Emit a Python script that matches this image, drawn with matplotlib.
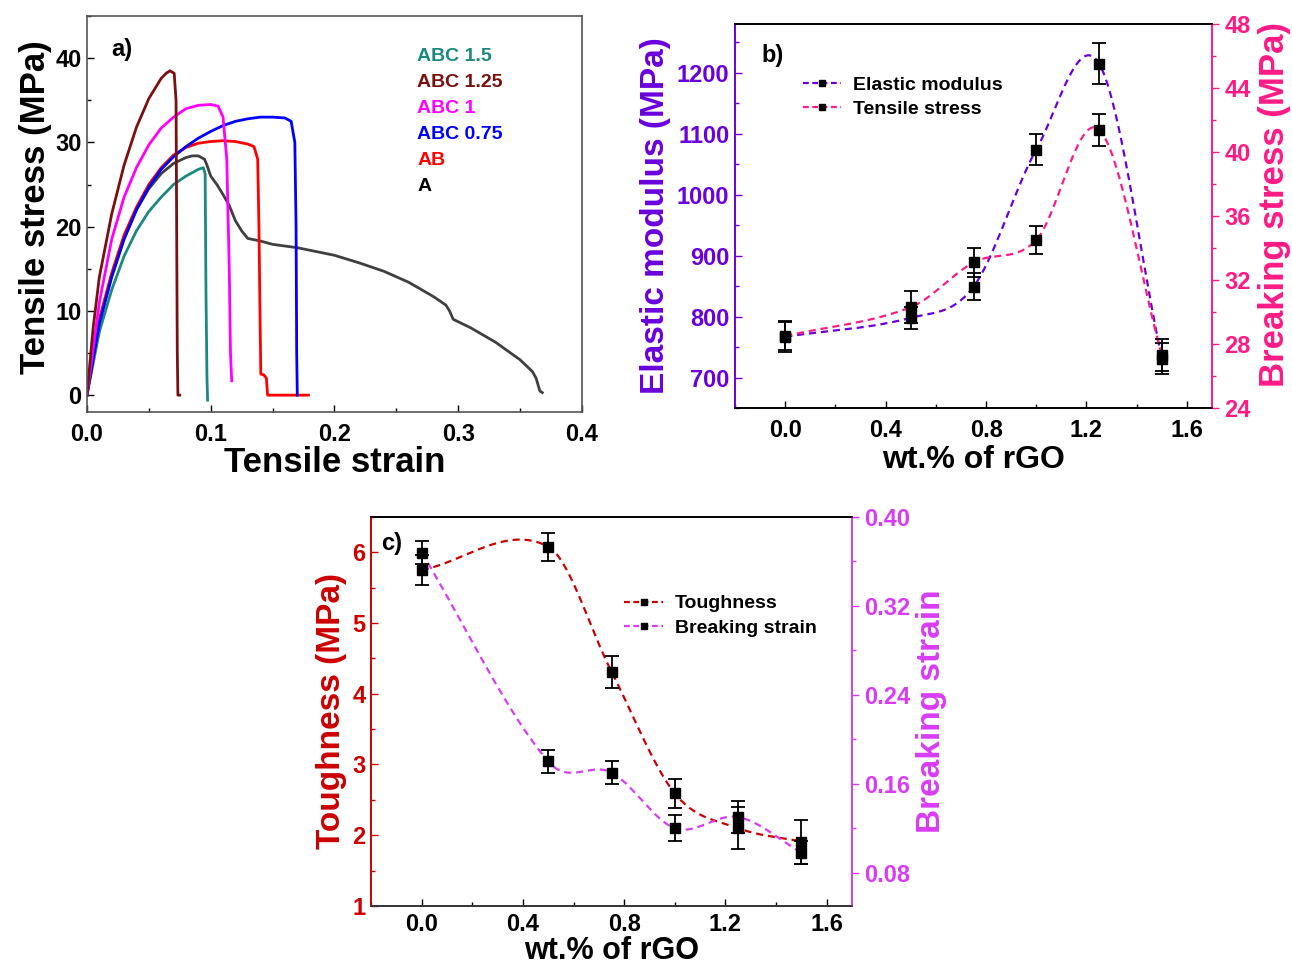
#!/usr/bin/env python3
"""Tensile test summary: stress-strain curves plus property trends vs rGO loading."""

import matplotlib
matplotlib.use("Agg")
import matplotlib.pyplot as plt
import numpy as np
from matplotlib.lines import Line2D
from matplotlib.ticker import MultipleLocator

plt.rcParams["font.family"] = ["Liberation Sans", "DejaVu Sans"]
plt.rcParams["font.weight"] = "bold"

# ---- panel a: stress-strain curves ----
strain_abc150 = [0, 0.01, 0.02, 0.03, 0.04, 0.05, 0.06, 0.07, 0.08, 0.09, 0.094, 0.0955, 0.0962, 0.097, 0.0975]
stress_abc150 = [0, 7.5, 12.5, 16.5, 19.5, 21.8, 23.5, 25.0, 26.0, 26.8, 27.0, 26.3, 12, 2, -0.6]

strain_abc125 = [0, 0.005, 0.01, 0.02, 0.03, 0.04, 0.05, 0.06, 0.064, 0.067, 0.0705, 0.072, 0.0725, 0.073, 0.0735, 0.075]
stress_abc125 = [0, 8, 14, 21.5, 27.3, 31.8, 35.2, 37.6, 38.2, 38.5, 38.2, 35, 20, 5, 0, 0]

strain_abc100 = [0, 0.01, 0.02, 0.03, 0.04, 0.05, 0.06, 0.07, 0.08, 0.09, 0.1, 0.106, 0.11, 0.113, 0.115, 0.116, 0.117]
stress_abc100 = [0, 11, 18.5, 23.5, 27, 29.7, 31.7, 33, 34, 34.4, 34.5, 34.3, 33, 28, 15, 5, 1.7]

strain_abc075 = [0, 0.01, 0.02, 0.03, 0.04, 0.05, 0.06, 0.07, 0.08, 0.09, 0.1, 0.11, 0.12, 0.13, 0.14,
                 0.15, 0.16, 0.165, 0.168, 0.169, 0.1695, 0.17]
stress_abc075 = [0, 8.5, 14, 18.5, 22, 24.7, 26.8, 28.3, 29.5, 30.5, 31.3, 32, 32.5, 32.8, 33,
                 33, 32.9, 32.5, 30, 20, 5, 0]

strain_ab = [0, 0.01, 0.02, 0.03, 0.04, 0.05, 0.06, 0.07, 0.08, 0.09, 0.1, 0.11, 0.12, 0.13, 0.135,
             0.138, 0.139, 0.14, 0.1405, 0.143, 0.145, 0.146, 0.179]
stress_ab = [0, 9, 14.5, 19, 22.3, 25, 27, 28.5, 29.4, 29.9, 30.1, 30.2, 30.1, 29.8, 29.5,
             28, 20, 8, 2.5, 2.4, 2, 0, 0]

strain_a = [0, 0.01, 0.02, 0.03, 0.04, 0.05, 0.06, 0.07, 0.08, 0.085, 0.09, 0.095, 0.097, 0.1, 0.105,
            0.11, 0.115, 0.12, 0.125, 0.13, 0.14, 0.15, 0.16, 0.17, 0.18, 0.2, 0.22, 0.24, 0.26,
            0.28, 0.29, 0.293, 0.296, 0.31, 0.33, 0.35, 0.36, 0.363, 0.366, 0.368]
stress_a = [0, 8.7, 14.2, 18.6, 22, 24.5, 26.3, 27.5, 28.2, 28.4, 28.4, 28, 27.3, 26, 25,
            23.8, 22.5, 20.7, 19.5, 18.6, 18.3, 17.9, 17.7, 17.5, 17.2, 16.6, 15.7, 14.7, 13.4,
            11.7, 10.7, 10, 9, 8, 6.3, 4.2, 2.8, 2, 0.5, 0.3]

curve_labels = ["ABC 1.5", "ABC 1.25", "ABC 1", "ABC 0.75", "AB", "A"]
curve_colors = ["#1a8a80", "#7a1010", "#ff00ff", "#0000ff", "#ff0000", "#000000"]

# ---- panels b and c: properties vs rGO content ----
rgo = [0, 0.5, 0.75, 1.0, 1.25, 1.5]
modulus = [767, 798, 849, 1074, 1215, 731]
modulus_err = [25, 18, 22, 25, 33, 26]
tensile = [28.5, 30.3, 33.1, 34.5, 41.4, 27.3]
tensile_err = [0.9, 1.0, 0.9, 0.9, 1.0, 1.0]
toughness = [5.75, 6.08, 4.31, 2.59, 2.10, 1.91]
toughness_err = [0.21, 0.2, 0.23, 0.21, 0.3, 0.31]
break_strain = [0.368, 0.180, 0.170, 0.120, 0.130, 0.098]
break_strain_err = [0.01, 0.01, 0.01, 0.012, 0.014, 0.01]

PURPLE = "#6a00dd"
PINK = "#ff1a85"
DARKRED = "#cc0000"
VIOLET = "#d93cf5"
LABEL_SIZE = 24
TICK_SIZE = 17


def spline_connect(x, y, per_seg=60):
    """Hermite spline through the points, slopes from neighbouring secants."""
    x = np.asarray(x, float)
    y = np.asarray(y, float)
    n = len(x)
    s = np.empty(n)
    s[0] = (y[1] - y[0]) / (x[1] - x[0])
    s[-1] = (y[-1] - y[-2]) / (x[-1] - x[-2])
    s[1:-1] = (y[2:] - y[:-2]) / (x[2:] - x[:-2])
    xs_all, ys_all = [], []
    for i in range(n - 1):
        h = x[i + 1] - x[i]
        t = np.linspace(0, 1, per_seg)
        h00 = 2 * t**3 - 3 * t**2 + 1
        h10 = t**3 - 2 * t**2 + t
        h01 = -2 * t**3 + 3 * t**2
        h11 = t**3 - t**2
        xs_all.append(x[i] + t * h)
        ys_all.append(h00 * y[i] + h10 * h * s[i] + h01 * y[i + 1] + h11 * h * s[i + 1])
    return np.concatenate(xs_all), np.concatenate(ys_all)


def style_x(ax, pad=8):
    ax.tick_params(axis="x", direction="in", length=5, width=1, labelsize=TICK_SIZE, pad=pad)
    ax.tick_params(axis="x", which="minor", direction="in", length=3, width=1)


def style_y(ax, color, direction):
    ax.tick_params(axis="y", direction=direction, length=5, width=1, labelsize=TICK_SIZE,
                   colors=color, pad=4)
    ax.tick_params(axis="y", which="minor", direction=direction, length=3, width=1, colors=color)


def plot_property(ax, values, errors, color):
    xs, ys = spline_connect(rgo, values)
    ax.plot(xs, ys, ls=(0, (3.2, 2.2)), color=color, lw=1.6, zorder=2)
    ax.errorbar(rgo, values, yerr=errors, fmt="s", color="black", ms=6.5, capsize=5,
                elinewidth=1.3, capthick=1.3, zorder=3)


def legend_handle(color):
    return Line2D([], [], color=color, ls=(0, (2.6, 1.6)), lw=1.6, marker="s",
                  mfc="black", mec="black", ms=5)


fig = plt.figure(figsize=(12.92, 9.71), dpi=100)

# ---------- panel a ----------
ax_a = fig.add_axes([0.0673, 0.5757, 0.3831, 0.4078])
all_curves = [
    (strain_abc150, stress_abc150),
    (strain_abc125, stress_abc125),
    (strain_abc100, stress_abc100),
    (strain_abc075, stress_abc075),
    (strain_ab, stress_ab),
    (strain_a, stress_a),
]
line_colors = curve_colors[:5] + ["#404040"]
for i in [5, 0, 4, 3, 2, 1]:
    sx, sy = all_curves[i]
    ax_a.plot(sx, sy, color=line_colors[i], lw=2.0)
ax_a.set_xlim(0, 0.4)
ax_a.set_ylim(-2, 45)
ax_a.set_xticks([0, 0.1, 0.2, 0.3, 0.4], ["0.0", "0.1", "0.2", "0.3", "0.4"])
ax_a.xaxis.set_minor_locator(MultipleLocator(0.05))
ax_a.yaxis.set_major_locator(MultipleLocator(10))
ax_a.yaxis.set_minor_locator(MultipleLocator(5))
style_x(ax_a)
style_y(ax_a, "black", "in")
for s in ax_a.spines.values():
    s.set_color("#555555")
    s.set_linewidth(1.2)
ax_a.set_xlabel("Tensile strain", fontsize=25, fontweight="bold", labelpad=0)
ax_a.set_ylabel("Tensile stress (MPa)", fontsize=25, fontweight="bold", labelpad=2)
ax_a.yaxis.label.set_y(0.517)
ax_a.text(0.05, 0.9, "a)", transform=ax_a.transAxes, fontsize=17, fontweight="bold")
for k, (lab, col) in enumerate(zip(curve_labels, curve_colors)):
    ax_a.text(0.667, 0.897 - k * 0.0657, lab, color=col, transform=ax_a.transAxes,
              fontsize=14, fontweight="bold", va="center")

# ---------- panel b ----------
ax_b = fig.add_axes([0.5689, 0.5798, 0.3692, 0.3955])
ax_b2 = ax_b.twinx()
plot_property(ax_b, modulus, modulus_err, PURPLE)
plot_property(ax_b2, tensile, tensile_err, PINK)
ax_b.set_xlim(-0.2, 1.7)
ax_b.set_ylim(650, 1280)
ax_b2.set_ylim(24, 48)
ax_b.set_xticks([0, 0.4, 0.8, 1.2, 1.6], ["0.0", "0.4", "0.8", "1.2", "1.6"])
ax_b.xaxis.set_minor_locator(MultipleLocator(0.2))
ax_b.yaxis.set_major_locator(MultipleLocator(100))
ax_b.yaxis.set_minor_locator(MultipleLocator(50))
ax_b2.yaxis.set_major_locator(MultipleLocator(4))
ax_b2.yaxis.set_minor_locator(MultipleLocator(2))
style_x(ax_b)
style_y(ax_b, PURPLE, "in")
style_y(ax_b2, PINK, "out")
for ax in (ax_b, ax_b2):
    ax.spines["left"].set_color(PURPLE)
    ax.spines["right"].set_color(PINK)
    ax.spines["top"].set_color("black")
    ax.spines["bottom"].set_color("black")
    for s in ax.spines.values():
        s.set_linewidth(1.2)
ax_b.set_xlabel("wt.% of rGO", fontsize=23, fontweight="bold", labelpad=2)
ax_b.set_ylabel("Elastic modulus (MPa)", fontsize=LABEL_SIZE, fontweight="bold", color=PURPLE, labelpad=4)
ax_b2.set_ylabel("Breaking stress (MPa)", fontsize=25, fontweight="bold", color=PINK, labelpad=5)
ax_b2.yaxis.label.set_y(0.53)
ax_b.text(0.055, 0.9, "b)", transform=ax_b.transAxes, fontsize=17, fontweight="bold")
ax_b2.legend([legend_handle(PURPLE), legend_handle(PINK)], ["Elastic modulus", "Tensile stress"],
             loc="upper left", bbox_to_anchor=(0.105, 0.91), frameon=False, numpoints=1,
             handlelength=2.0, handletextpad=0.6, labelspacing=0.35,
             prop={"weight": "bold", "size": 14})

# ---------- panel c ----------
ax_c = fig.add_axes([0.2872, 0.0670, 0.3723, 0.4006])
ax_c2 = ax_c.twinx()
plot_property(ax_c, toughness, toughness_err, DARKRED)
plot_property(ax_c2, break_strain, break_strain_err, VIOLET)
ax_c.set_xlim(-0.2, 1.7)
ax_c.set_ylim(1, 6.5)
ax_c2.set_ylim(0.05, 0.40)
ax_c.set_xticks([0, 0.4, 0.8, 1.2, 1.6], ["0.0", "0.4", "0.8", "1.2", "1.6"])
ax_c.xaxis.set_minor_locator(MultipleLocator(0.2))
ax_c.yaxis.set_major_locator(MultipleLocator(1))
ax_c.yaxis.set_minor_locator(MultipleLocator(0.5))
ax_c2.set_yticks([0.08, 0.16, 0.24, 0.32, 0.40], ["0.08", "0.16", "0.24", "0.32", "0.40"])
ax_c2.yaxis.set_minor_locator(MultipleLocator(0.04))
style_x(ax_c, pad=5)
style_y(ax_c, DARKRED, "in")
style_y(ax_c2, VIOLET, "out")
for ax in (ax_c, ax_c2):
    ax.spines["left"].set_color(DARKRED)
    ax.spines["right"].set_color(VIOLET)
    ax.spines["top"].set_color("black")
    ax.spines["bottom"].set_color("#333333")
    for s in ax.spines.values():
        s.set_linewidth(1.2)
ax_c.set_xlabel("wt.% of rGO", fontsize=22, fontweight="bold", labelpad=0)
ax_c.set_ylabel("Toughness (MPa)", fontsize=LABEL_SIZE, fontweight="bold", color=DARKRED, labelpad=4)
ax_c2.set_ylabel("Breaking strain", fontsize=LABEL_SIZE, fontweight="bold", color=VIOLET, labelpad=4)
ax_c.text(0.02, 0.915, "c)", transform=ax_c.transAxes, fontsize=17, fontweight="bold")
ax_c2.legend([legend_handle(DARKRED), legend_handle(VIOLET)], ["Toughness", "Breaking strain"],
             loc="upper left", bbox_to_anchor=(0.49, 0.845), frameon=False, numpoints=1,
             handlelength=2.0, handletextpad=0.6, labelspacing=0.35,
             prop={"weight": "bold", "size": 14})

fig.savefig("out.png", dpi=100)
